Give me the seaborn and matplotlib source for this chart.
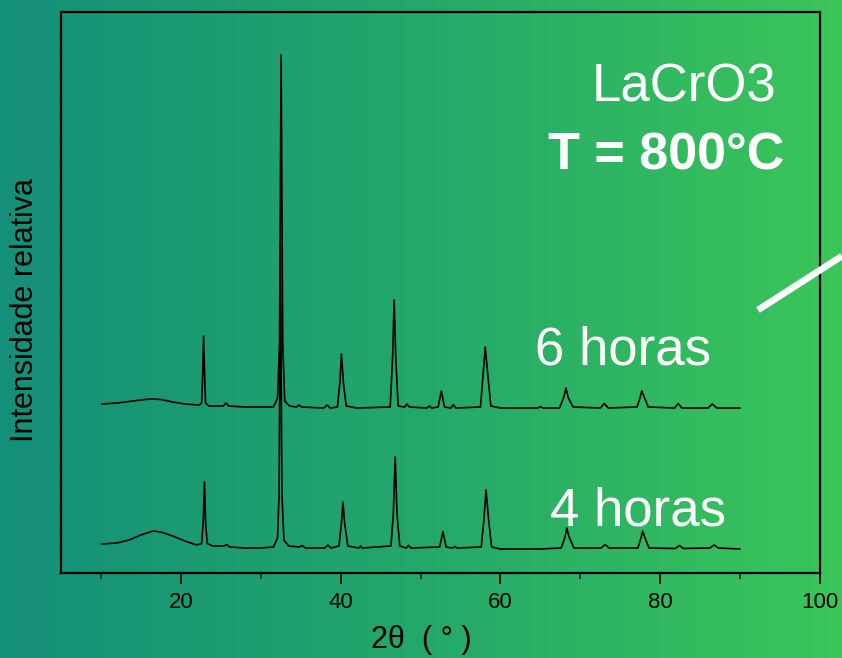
import numpy as np
import pandas as pd
import matplotlib
matplotlib.use("Agg")
import matplotlib.pyplot as plt
from matplotlib.colors import LinearSegmentedColormap
from matplotlib.lines import Line2D
import seaborn as sns

sns.set_theme(style="ticks")
plt.rcParams['font.family'] = ['Liberation Sans', 'DejaVu Sans']

# ---- data (2theta in degrees, relative intensity in arbitrary units) ----
theta_4h = [10.1, 12, 13.5, 15, 16.5, 17.5, 19, 20.5, 22.0, 22.6, 22.8, 22.96, 23.1, 23.3, 24,
            25.4, 25.75, 26.1, 28, 30, 31.6, 32.1, 32.3, 32.46, 32.65, 32.9, 33.5, 34.8, 35.2,
            35.6, 38.0, 38.4, 38.8, 39.8, 40.1, 40.29, 40.5, 40.9, 42.3, 42.5, 42.7, 46.3,
            46.6, 46.83, 47.05, 47.4, 48.2, 48.5, 48.8, 52.4, 52.8, 53.2, 54.0, 54.3, 54.6,
            57.6, 57.95, 58.2, 58.5, 58.9, 60, 65, 67.6, 68.1, 68.3, 68.6, 69.2, 72.6, 73.1,
            73.6, 77.2, 77.6, 77.8, 78.1, 78.6, 81.9, 82.4, 82.9, 86.2, 86.75, 87.3, 90.0]
int_4h = [29, 30, 33, 38, 42, 41, 37, 32, 28, 29.5, 50, 91, 50, 29.5, 27,
          27, 28.5, 26, 25, 25, 26, 35, 80, 328, 80, 33, 27, 26, 27.5,
          25, 25, 28, 25, 27, 50, 71, 50, 27, 25, 27, 25, 27,
          60, 116, 60, 27, 25, 27.5, 25, 26, 41.5, 26, 25, 26.5, 25,
          26, 55, 83, 55, 26, 24, 24, 25, 36, 45, 36, 25, 25, 28.5,
          25, 25, 35, 42, 35, 25, 24.5, 27.5, 24.5, 25, 28, 25, 24]

theta_6h = [10.1, 12, 14, 15.5, 16.5, 17.5, 19, 20.5, 22.3, 22.6, 22.72, 22.85, 22.98, 23.1,
            23.5, 25.3, 25.65, 26.0, 28, 31.6, 32.1, 32.35, 32.55, 32.75, 33.0, 33.6, 34.5,
            34.8, 35.1, 37.9, 38.3, 38.7, 39.6, 39.9, 40.1, 40.35, 40.7, 42, 46.2, 46.5, 46.7,
            46.9, 47.2, 48.0, 48.3, 48.6, 50.8, 51.1, 51.4, 52.2, 52.6, 53.0, 53.8, 54.1, 54.4,
            57.5, 57.85, 58.1, 58.4, 58.8, 60, 64.7, 65.0, 65.3, 67.4, 67.9, 68.2, 68.5, 69.1,
            72.5, 73.0, 73.5, 77.1, 77.5, 77.7, 78.0, 78.5, 81.8, 82.25, 82.7, 86.0, 86.5,
            87.1, 90.0]
int_6h = [169, 170, 172, 173.5, 174, 173.5, 171, 169, 168, 170, 195, 237, 195, 170,
          167, 167, 170, 167, 166, 166, 175, 230, 518, 230, 172, 167, 166,
          168, 166, 165, 168, 165, 166, 190, 219, 190, 167, 165, 166, 215, 273,
          215, 167, 166, 169, 166, 165, 167, 165, 166, 182, 166, 165, 168.5, 165,
          166, 200, 226, 200, 167, 165, 165, 166.5, 165, 165, 175, 185, 175, 166,
          165, 169.5, 165, 166, 176, 182, 176, 166, 165, 169.5, 165, 165, 169,
          165, 165]

x_ticks = [20, 40, 60, 80, 100]
x_minor = [10, 30, 50, 70, 90]

df = pd.concat([
    pd.DataFrame({"theta": theta_4h, "I": int_4h, "serie": "4 horas"}),
    pd.DataFrame({"theta": theta_6h, "I": int_6h, "serie": "6 horas"}),
])

W, H = 842, 658
fig = plt.figure(figsize=(W / 100, H / 100), dpi=100)

# gradient background
bg = fig.add_axes([0, 0, 1, 1], zorder=0)
cmap = LinearSegmentedColormap.from_list("g", ["#148F79", "#24A86A", "#3BC559"])
bg.imshow(np.linspace(0, 1, 512)[None, :], aspect="auto", cmap=cmap,
          extent=[0, 1, 0, 1])
bg.set_axis_off()

ax = fig.add_axes([61 / W, 1 - 573 / H, (820 - 61) / W, (573 - 12) / H], zorder=1)
ax.patch.set_alpha(0)

for s in ["4 horas", "6 horas"]:
    sns.lineplot(data=df[df.serie == s], x="theta", y="I", color="black",
                 lw=1.2, estimator=None, sort=False, ax=ax)

ax.set_xlim(5, 100)
ax.set_ylim(0, 561)
ax.set_xticks(x_ticks)
ax.set_xticks(x_minor, minor=True)
ax.set_yticks(np.arange(0, 561, 21.6))
ax.set_yticklabels([])
ax.tick_params(axis="x", which="major", length=8, width=1.3, direction="out",
               labelsize=16, pad=6, colors="black")
ax.tick_params(axis="x", which="minor", length=4.5, width=1.3, direction="out")
ax.tick_params(axis="y", which="major", length=1.5, width=1, direction="out")
for sp in ax.spines.values():
    sp.set_visible(True)
    sp.set_linewidth(1.6)
    sp.set_color("black")
ax.set_xlabel("")
ax.set_ylabel("")

fig.text(0.5, 0.004, "2θ  ( ° )", fontsize=22, ha="center", va="bottom", color="black")
fig.text(0.03, 0.529, "Intensidade relativa", fontsize=22, rotation=90,
         ha="center", va="center", color="black")

fig.text(776 / W, 1 - 102 / H, "LaCrO3", fontsize=38, color="white",
         ha="right", va="baseline", zorder=3)
fig.text(784 / W, 1 - 170 / H, "T = 800°C", fontsize=37.5, color="white",
         fontweight="bold", ha="right", va="baseline", zorder=3)
fig.text(535 / W, 1 - 365 / H, "6 horas", fontsize=38, color="white",
         ha="left", va="baseline", zorder=3)
fig.text(550 / W, 1 - 526 / H, "4 horas", fontsize=38, color="white",
         ha="left", va="baseline", zorder=3)

fig.add_artist(Line2D([758 / W, 1.0], [1 - 310 / H, 1 - 256 / H], color="white",
                      lw=4.8, transform=fig.transFigure, zorder=3,
                      solid_capstyle="butt"))

fig.savefig("out.png", dpi=100)
